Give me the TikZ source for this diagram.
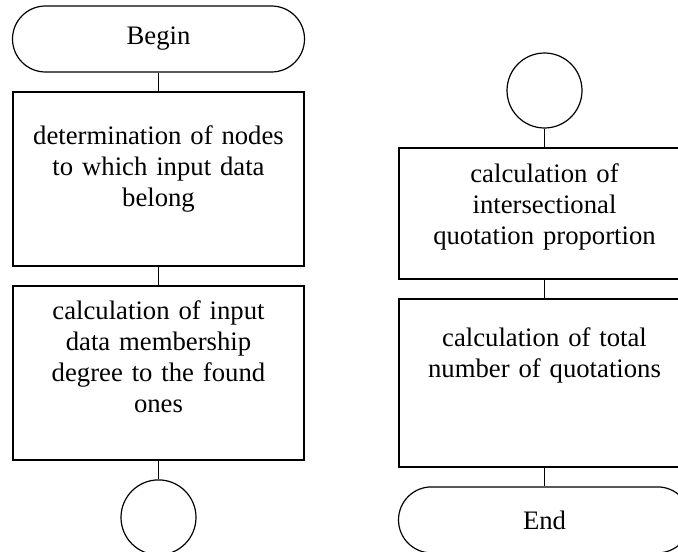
\documentclass[tikz,border=0pt]{standalone}
\usepackage{fontspec}
\setmainfont{Liberation Serif}
\usetikzlibrary{positioning}

\begin{document}
\begin{tikzpicture}[
  node distance=9.35pt,
  every node/.style={font=\fontsize{13.35}{15.5}\selectfont},
  term/.style={draw, line width=0.6pt, rectangle, rounded corners=16.5pt, minimum width=146pt, minimum height=33pt, inner sep=0pt},
  proc/.style={draw, line width=0.65pt, rectangle, align=center, text width=140pt, minimum width=145.5pt, inner sep=0pt, text height=9.5pt},
  conn/.style={draw, line width=0.6pt, circle, minimum size=37.5pt, inner sep=0pt},
  link/.style={line width=0.6pt}
]
\useasboundingbox (0,0) rectangle (339pt,-275.5pt);

% left column
\node[term] (begin) at (79.25pt,-19.5pt) {Begin};
\node[proc, below=of begin, minimum height=87pt, text depth=43.5pt] (nodes) {determination of nodes\\to which input data\\belong};
\node[proc, below=of nodes, minimum height=87pt, text depth=62.5pt] (degree) {calculation of input\\data membership\\degree to the found\\ones};
\node[conn, below=of degree] (offpage) {};

% right column
\node[conn] (onpage) at (272.25pt,-45.25pt) {};
\node[proc, below=of onpage, minimum height=65.5pt, text depth=40pt] (share) {calculation of\\intersectional\\quotation proportion};
\node[proc, below=of share, minimum height=84pt, text depth=45.5pt] (total) {calculation of total\\number of quotations};
\node[term, below=of total] (end) {End};

\draw[link] (begin) -- (nodes);
\draw[link] (nodes) -- (degree);
\draw[link] (degree) -- (offpage);
\draw[link] (onpage) -- (share);
\draw[link] (share) -- (total);
\draw[link] (total) -- (end);
\end{tikzpicture}
\end{document}
